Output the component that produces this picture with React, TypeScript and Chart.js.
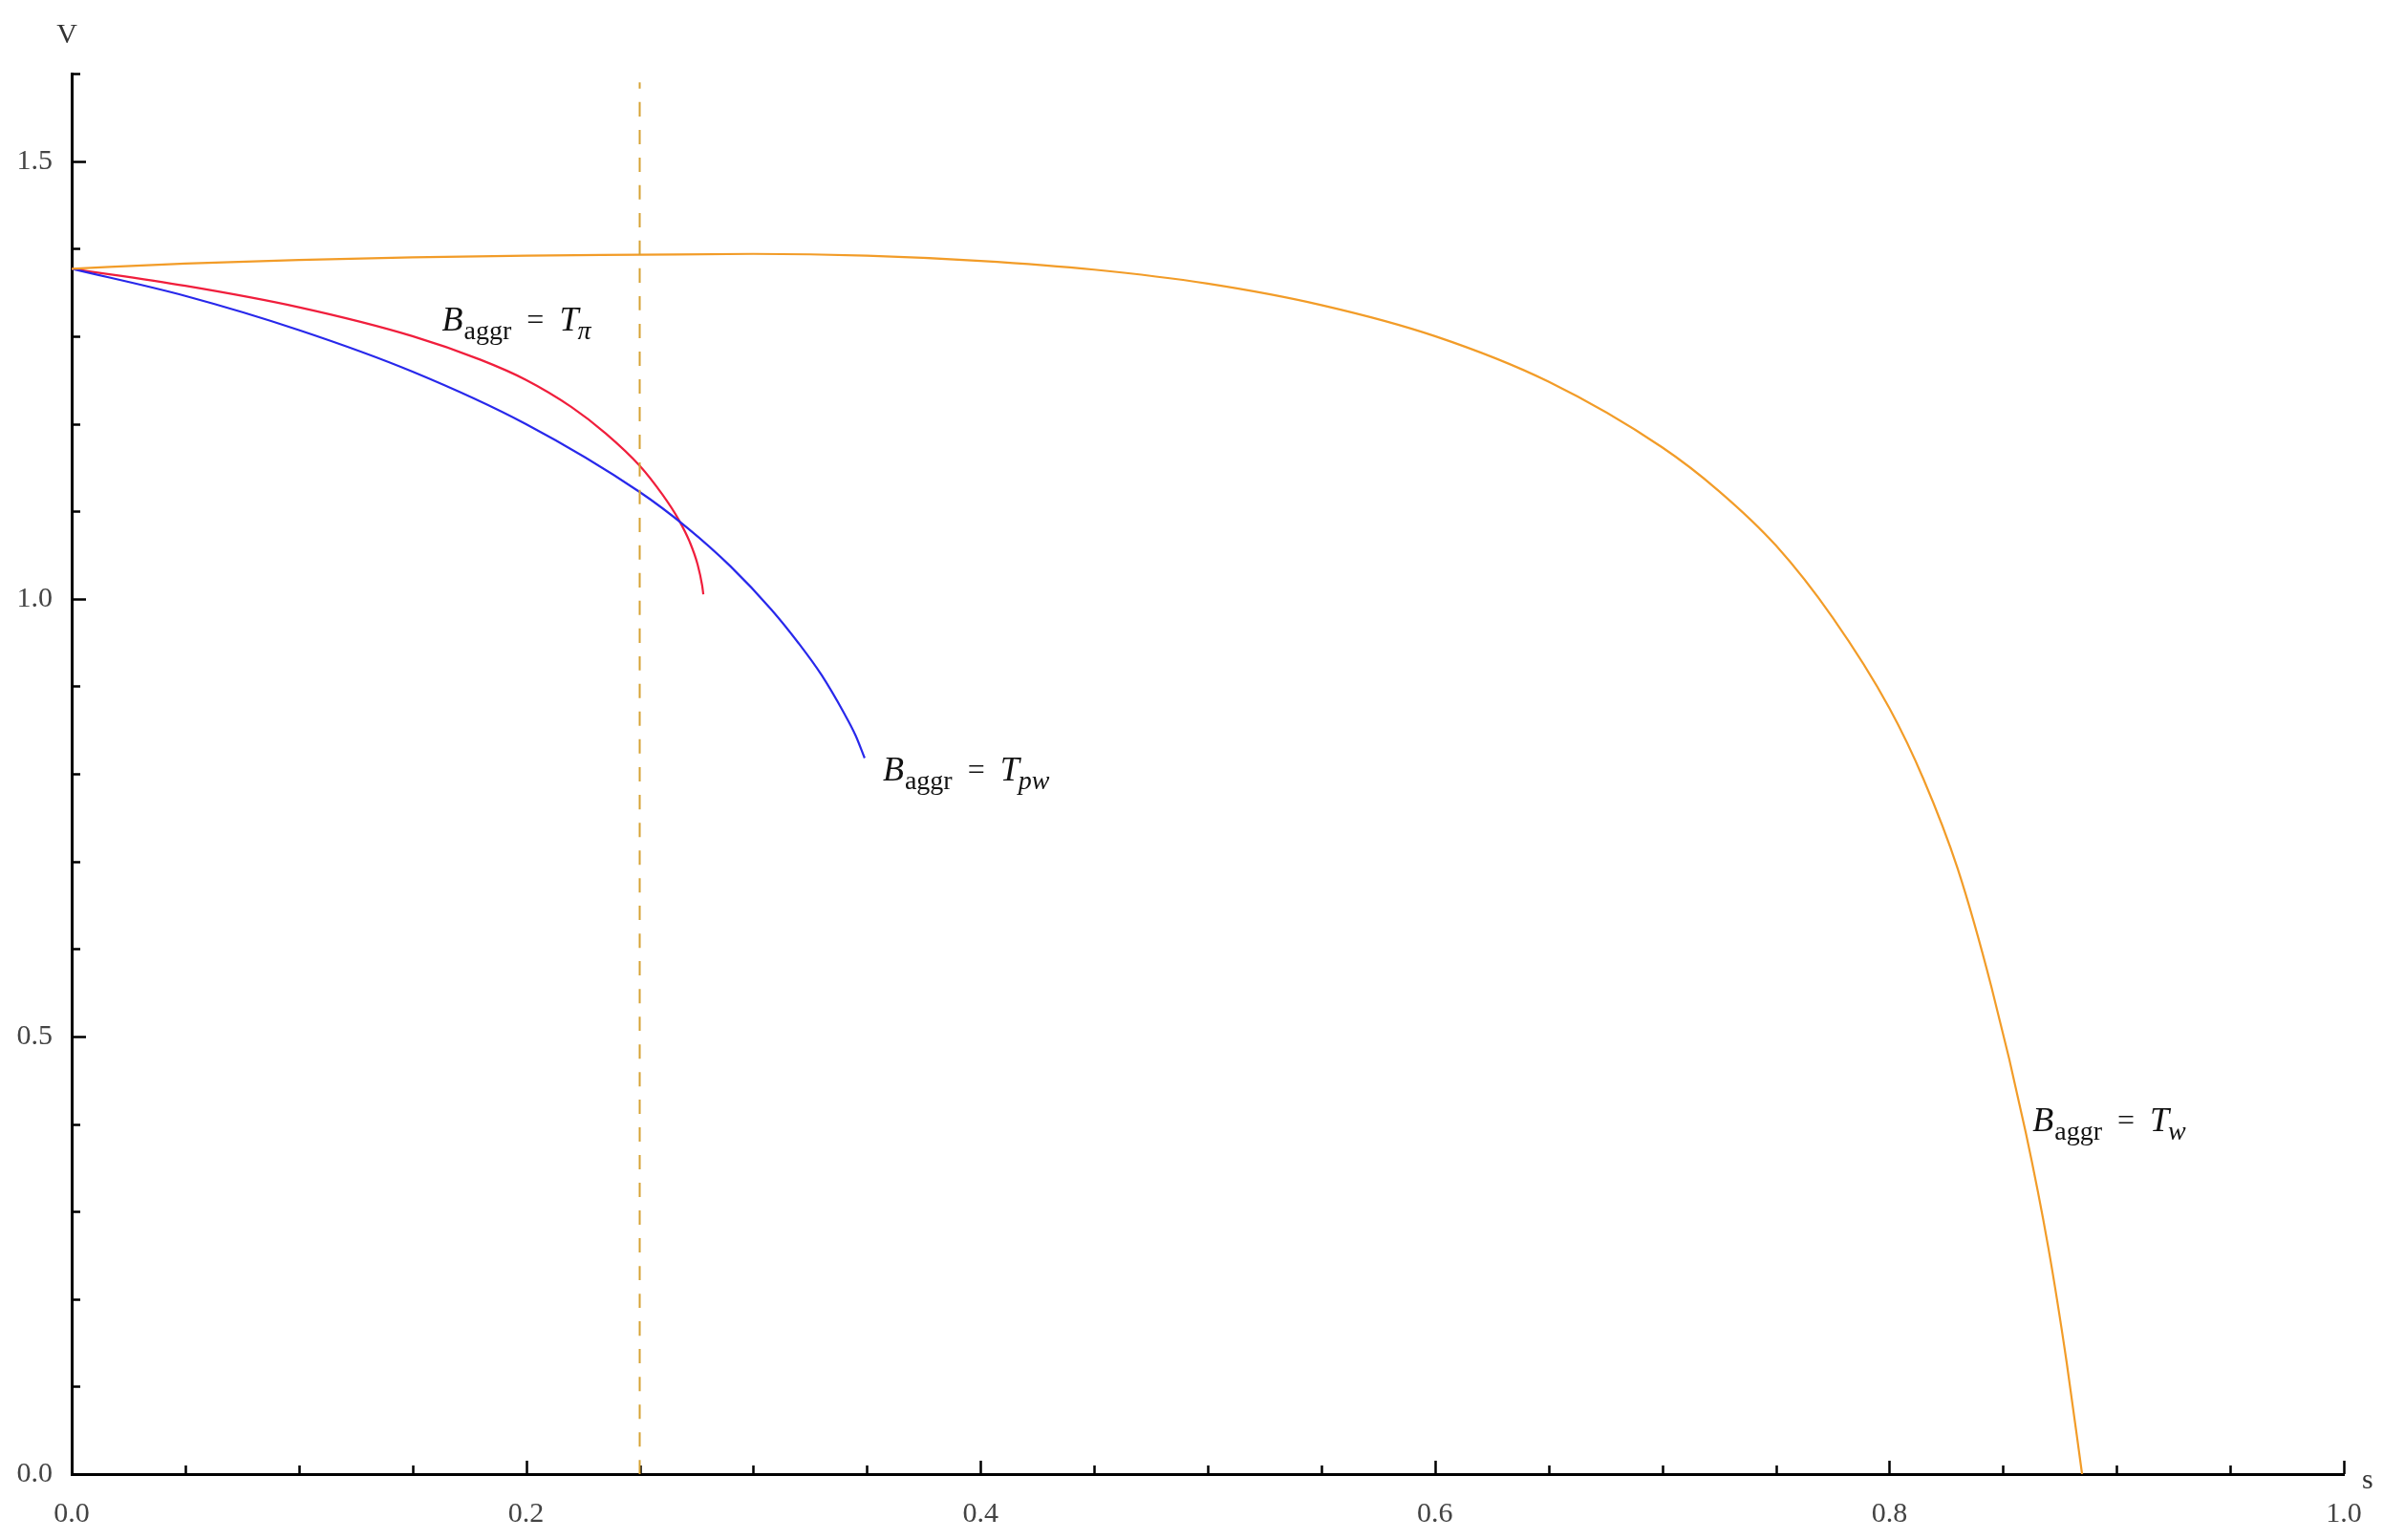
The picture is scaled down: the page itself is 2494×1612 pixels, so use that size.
import React, { useEffect, useRef } from 'react';
import { Chart, registerables } from 'chart.js';

Chart.register(...registerables);

// ---- data ----
const orangeS = [0, 0.05, 0.1, 0.15, 0.2, 0.25, 0.3, 0.35, 0.4, 0.45, 0.5, 0.55, 0.6, 0.65, 0.7, 0.725, 0.75, 0.775, 0.8, 0.815, 0.83, 0.845, 0.86, 0.87, 0.878, 0.8848];
const orangeV = [1.377, 1.383, 1.387, 1.390, 1.392, 1.393, 1.394, 1.392, 1.386, 1.376, 1.360, 1.3355, 1.300, 1.248, 1.173, 1.123, 1.061, 0.9785, 0.875, 0.794, 0.692, 0.5555, 0.3905, 0.258, 0.128, 0];

const redS = [0, 0.05, 0.1, 0.15, 0.18, 0.2, 0.22, 0.235, 0.25, 0.26, 0.267, 0.272, 0.2755, 0.2775, 0.278];
const redV = [1.377, 1.3575, 1.333, 1.300, 1.273, 1.250, 1.219, 1.189, 1.152, 1.119, 1.091, 1.065, 1.039, 1.015, 1.005];

const blueS = [0, 0.05, 0.1, 0.15, 0.2, 0.25, 0.271, 0.29, 0.308, 0.32, 0.33, 0.34, 0.345, 0.349];
const blueV = [1.377, 1.346, 1.307, 1.2595, 1.1995, 1.122, 1.081, 1.037, 0.9875, 0.949, 0.913, 0.869, 0.844, 0.818];

const dashS = [0.25, 0.25];
const dashV = [0, 1.59];

const xTickLabels = ['0.0', '0.2', '0.4', '0.6', '0.8', '1.0'];
const yTickLabels = ['0.0', '0.5', '1.0', '1.5'];
const xMinorStep = 0.05;
const xMajorStep = 0.2;
const yMinorStep = 0.1;
const yMajorStep = 0.5;
const xMax = 1;
const yMax = 1.6;

const xAxisTitle = 's';
const yAxisTitle = 'V';

// curve annotations: B_aggr = T_sub
const labelSubs = ['π', 'pw', 'w'];
const labelS = [0.163, 0.357, 0.863];
const labelV = [1.306, 0.792, 0.392];

const SERIF = '"Liberation Serif", "DejaVu Serif", serif';

const toPts = (xs: number[], ys: number[]) => xs.map((x, i) => ({ x, y: ys[i] }));
const isMult = (v: number, step: number) => Math.abs(v / step - Math.round(v / step)) < 1e-6;

const annotationPlugin = {
  id: 'mathAxes',
  beforeDatasetsDraw(chart: any) {
    const { ctx, chartArea, scales } = chart;
    const xs = scales.x;
    const ys = scales.y;
    ctx.save();
    ctx.strokeStyle = '#000';
    ctx.lineWidth = 2.5;
    ctx.beginPath();
    xs.ticks.forEach((t: any) => {
      const px = Math.round(xs.getPixelForValue(t.value)) + 0.5;
      const len = isMult(t.value, xMajorStep) ? 14 : 9;
      ctx.moveTo(px, chartArea.bottom);
      ctx.lineTo(px, chartArea.bottom - len);
    });
    ys.ticks.forEach((t: any) => {
      const py = Math.round(ys.getPixelForValue(t.value)) + 0.5;
      const len = isMult(t.value, yMajorStep) ? 15 : 9;
      ctx.moveTo(chartArea.left, py);
      ctx.lineTo(chartArea.left + len, py);
    });
    ctx.stroke();
    ctx.restore();
  },
  afterDraw(chart: any) {
    const { ctx, chartArea, scales } = chart;
    const xs = scales.x;
    const ys = scales.y;
    ctx.save();
    // axis titles
    ctx.fillStyle = '#333';
    ctx.font = `30px ${SERIF}`;
    ctx.textAlign = 'center';
    ctx.textBaseline = 'alphabetic';
    ctx.fillText(yAxisTitle, chartArea.left - 5, chartArea.top - 32);
    ctx.textAlign = 'left';
    ctx.fillText(xAxisTitle, chartArea.right + 19, chartArea.bottom + 15);

    // curve labels
    ctx.fillStyle = '#111';
    labelSubs.forEach((sub, i) => {
      let x = xs.getPixelForValue(labelS[i]);
      const y = ys.getPixelForValue(labelV[i]);
      ctx.font = `italic 36px ${SERIF}`;
      ctx.fillText('B', x, y);
      x += ctx.measureText('B').width + 1;
      ctx.font = `28px ${SERIF}`;
      ctx.fillText('aggr', x, y + 9);
      x += ctx.measureText('aggr').width + 16;
      ctx.font = `32px ${SERIF}`;
      ctx.fillText('=', x, y - 1);
      x += ctx.measureText('=').width + 16;
      ctx.font = `italic 36px ${SERIF}`;
      ctx.fillText('T', x, y);
      x += ctx.measureText('T').width - 1;
      ctx.font = `italic 28px ${SERIF}`;
      ctx.fillText(sub, x, y + 9);
    });
    ctx.restore();
  },
};

export default function App() {
  const ref = useRef<HTMLCanvasElement | null>(null);

  useEffect(() => {
    if (!ref.current) return;
    Chart.defaults.font.family = SERIF;
    const line = {
      showLine: true,
      pointRadius: 0,
      pointHoverRadius: 0,
      borderWidth: 2.2,
      fill: false,
      cubicInterpolationMode: 'monotone' as const,
    };
    const chart = new Chart(ref.current, {
      type: 'scatter',
      data: {
        datasets: [
          {
            ...line,
            label: 'dashed',
            data: toPts(dashS, dashV),
            borderColor: 'rgb(214,162,52)',
            borderWidth: 2,
            borderDash: [15, 14],
          },
          { ...line, label: 'B_aggr = T_w', data: toPts(orangeS, orangeV), borderColor: 'rgb(242,156,40)' },
          { ...line, label: 'B_aggr = T_pw', data: toPts(blueS, blueV), borderColor: 'rgb(40,40,235)' },
          { ...line, label: 'B_aggr = T_π', data: toPts(redS, redV), borderColor: 'rgb(240,30,60)' },
        ],
      },
      options: {
        responsive: false,
        animation: false,
        devicePixelRatio: 1,
        layout: { padding: { top: 77, right: 41, left: 0, bottom: 0 } },
        plugins: {
          legend: { display: false },
          tooltip: { enabled: false },
        },
        scales: {
          x: {
            type: 'linear',
            min: 0,
            max: xMax,
            afterFit: (s: any) => {
              s.height = 69;
            },
            grid: { display: false },
            border: { display: true, color: '#000', width: 3 },
            ticks: {
              stepSize: xMinorStep,
              autoSkip: false,
              maxRotation: 0,
              padding: 16,
              color: '#444',
              font: { family: SERIF, size: 30 },
              callback: (v: any) => {
                const n = Number(v);
                return isMult(n, xMajorStep) ? xTickLabels[Math.round(n / xMajorStep)] : '';
              },
            },
          },
          y: {
            type: 'linear',
            min: 0,
            max: yMax,
            afterFit: (s: any) => {
              s.width = 75;
            },
            grid: { display: false },
            border: { display: true, color: '#000', width: 3 },
            ticks: {
              stepSize: yMinorStep,
              autoSkip: false,
              padding: 12,
              color: '#444',
              font: { family: SERIF, size: 30 },
              callback: (v: any) => {
                const n = Number(v);
                return isMult(n, yMajorStep) ? yTickLabels[Math.round(n / yMajorStep)] : '';
              },
            },
          },
        },
      } as any,
      plugins: [annotationPlugin],
    });
    return () => chart.destroy();
  }, []);

  return (
    <div style={{ position: 'fixed', left: 0, top: 0, width: 2494, height: 1612, background: '#fff' }}>
      <canvas ref={ref} width={2494} height={1612} style={{ display: 'block', width: 2494, height: 1612 }} />
    </div>
  );
}
